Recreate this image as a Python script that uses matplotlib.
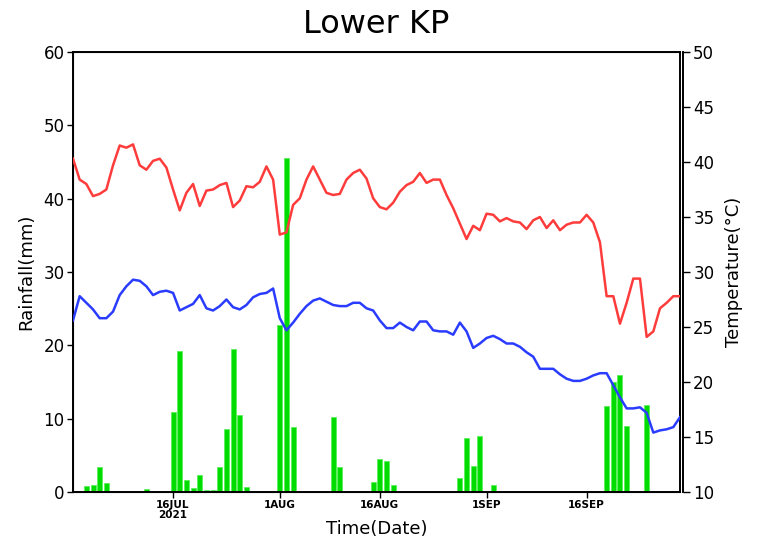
"""Lower KP rainfall + temperature chart -> out.png"""

import datetime as dt

import matplotlib
matplotlib.use("Agg")
import matplotlib.dates as mdates
import matplotlib.pyplot as plt
import numpy as np


start = dt.date(2021, 7, 1)
days = [start + dt.timedelta(days=i) for i in range(92)]

# daily rainfall (mm), only non-zero days
rain_dates = ["07-03", "07-04", "07-05", "07-06", "07-07", "07-08", "07-12",
              "07-16", "07-17", "07-18", "07-19", "07-20", "07-21", "07-22",
              "07-23", "07-24", "07-25", "07-26", "07-27", "07-28",
              "08-01", "08-02", "08-03", "08-09", "08-10",
              "08-15", "08-16", "08-17", "08-18",
              "08-28", "08-29", "08-30", "08-31", "09-02", "09-05",
              "09-18", "09-19", "09-20", "09-21", "09-22", "09-24", "09-25"]
rain_mm = [0.8, 0.9, 3.4, 1.2, 0.15, 0.15, 0.4,
           10.9, 19.2, 1.6, 0.6, 2.3, 0.3, 0.3,
           3.4, 8.6, 19.5, 10.5, 0.7, 0.1,
           22.8, 45.5, 8.9, 10.2, 3.4,
           1.4, 4.5, 4.2, 1.0,
           1.9, 7.3, 3.6, 7.6, 1.0, 0.15,
           0.1, 11.7, 15.0, 15.9, 9.0, 0.2, 11.9]

# daily max / min temperature (degC), 1 Jul .. 30 Sep
t_max = [40.3, 38.4, 38.0, 36.9, 37.1, 37.5, 39.7, 41.5, 41.3, 41.6,
         39.7, 39.3, 40.1, 40.3, 39.5, 37.5, 35.6, 37.2, 38.0, 36.0,
         37.4, 37.5, 37.9, 38.1, 35.9, 36.5, 37.8, 37.7, 38.2, 39.6,
         38.4, 33.4, 33.6, 36.1, 36.7, 38.4, 39.6, 38.4, 37.2, 37.0,
         37.1, 38.4, 39.0, 39.3, 38.5, 36.7, 35.9, 35.7, 36.3, 37.3,
         37.9, 38.2, 39.0, 38.1, 38.4, 38.4, 37.0, 35.8, 34.4, 33.0,
         34.2, 33.8, 35.3, 35.2, 34.6, 34.9, 34.6, 34.5, 33.9, 34.7,
         35.0, 34.0, 34.7, 33.8, 34.3, 34.5, 34.5, 35.2, 34.5, 32.7,
         27.8, 27.8, 25.3, 27.2, 29.4, 29.4, 24.1, 24.6, 26.7, 27.2,
         27.8, 27.8]
t_min = [25.6, 27.8, 27.2, 26.6, 25.8, 25.8, 26.4, 27.9, 28.7, 29.3,
         29.2, 28.7, 27.9, 28.2, 28.3, 28.1, 26.5, 26.8, 27.1, 27.9,
         26.7, 26.5, 26.9, 27.5, 26.8, 26.6, 27.0, 27.7, 28.0, 28.1,
         28.5, 25.8, 24.7, 25.4, 26.2, 26.9, 27.4, 27.6, 27.3, 27.0,
         26.9, 26.9, 27.2, 27.2, 26.7, 26.5, 25.6, 24.9, 24.9, 25.4,
         25.0, 24.7, 25.5, 25.5, 24.7, 24.6, 24.6, 24.3, 25.4, 24.6,
         23.1, 23.5, 24.0, 24.2, 23.9, 23.5, 23.5, 23.2, 22.7, 22.3,
         21.2, 21.2, 21.2, 20.7, 20.3, 20.1, 20.1, 20.3, 20.6, 20.8,
         20.8, 19.7, 18.6, 17.6, 17.6, 17.7, 17.2, 15.4, 15.6, 15.7,
         15.9, 16.8]

tick_dates = ["07-16", "08-01", "08-16", "09-01", "09-16"]
tick_labels = ["16JUL\n2021", "1AUG", "16AUG", "1SEP", "16SEP"]


def to_date(s):
    m, d = s.split("-")
    return dt.date(2021, int(m), int(d))


def main():
    fig = plt.figure(figsize=(7.68, 5.42), dpi=100)
    ax = fig.add_axes([73 / 768, 50 / 542, 607 / 768, 440 / 542])

    ax.bar([to_date(s) for s in rain_dates], rain_mm, width=0.75,
           color="#00dc00", edgecolor="#5cf05c", linewidth=0.6, zorder=2)
    ax.set_xlim(days[0], days[-1])
    ax.set_ylim(0, 60)
    ax.set_yticks(np.arange(0, 61, 10))
    ax.set_ylabel("Rainfall(mm)", fontsize=13, labelpad=6)
    ax.set_xlabel("Time(Date)", fontsize=13, labelpad=0)
    ax.set_xticks([to_date(s) for s in tick_dates])
    ax.set_xticklabels(tick_labels, fontsize=7.5, fontweight="bold",
                       linespacing=0.95)
    ax.xaxis.set_minor_locator(mdates.DayLocator(bymonthday=[1]))
    ax.tick_params(axis="x", which="minor", length=0)
    ax.tick_params(axis="x", direction="out", length=4, width=1, pad=2)
    ax.tick_params(axis="y", direction="out", length=4, width=1,
                   labelsize=12, pad=2)
    for sp in ax.spines.values():
        sp.set_linewidth(1.4)

    ax2 = ax.twinx()
    ax2.plot(days, t_max, color="#ff3c3c", linewidth=1.8, zorder=3)
    ax2.plot(days, t_min, color="#2a3cff", linewidth=1.8, zorder=3)
    ax2.set_ylim(10, 50)
    ax2.set_yticks(np.arange(10, 51, 5))
    ax2.set_ylabel("Temperature(\u00b0C)", fontsize=13, labelpad=8)
    ax2.spines["right"].set_position(("outward", 2.5))
    ax2.spines["right"].set_linewidth(1.4)
    ax2.tick_params(axis="y", direction="out", length=5, width=1,
                    labelsize=12, pad=2)

    fig.text(0.49, 0.955, "Lower KP", ha="center", va="center",
             fontsize=23)

    fig.savefig("out.png", dpi=100)


if __name__ == "__main__":
    main()
